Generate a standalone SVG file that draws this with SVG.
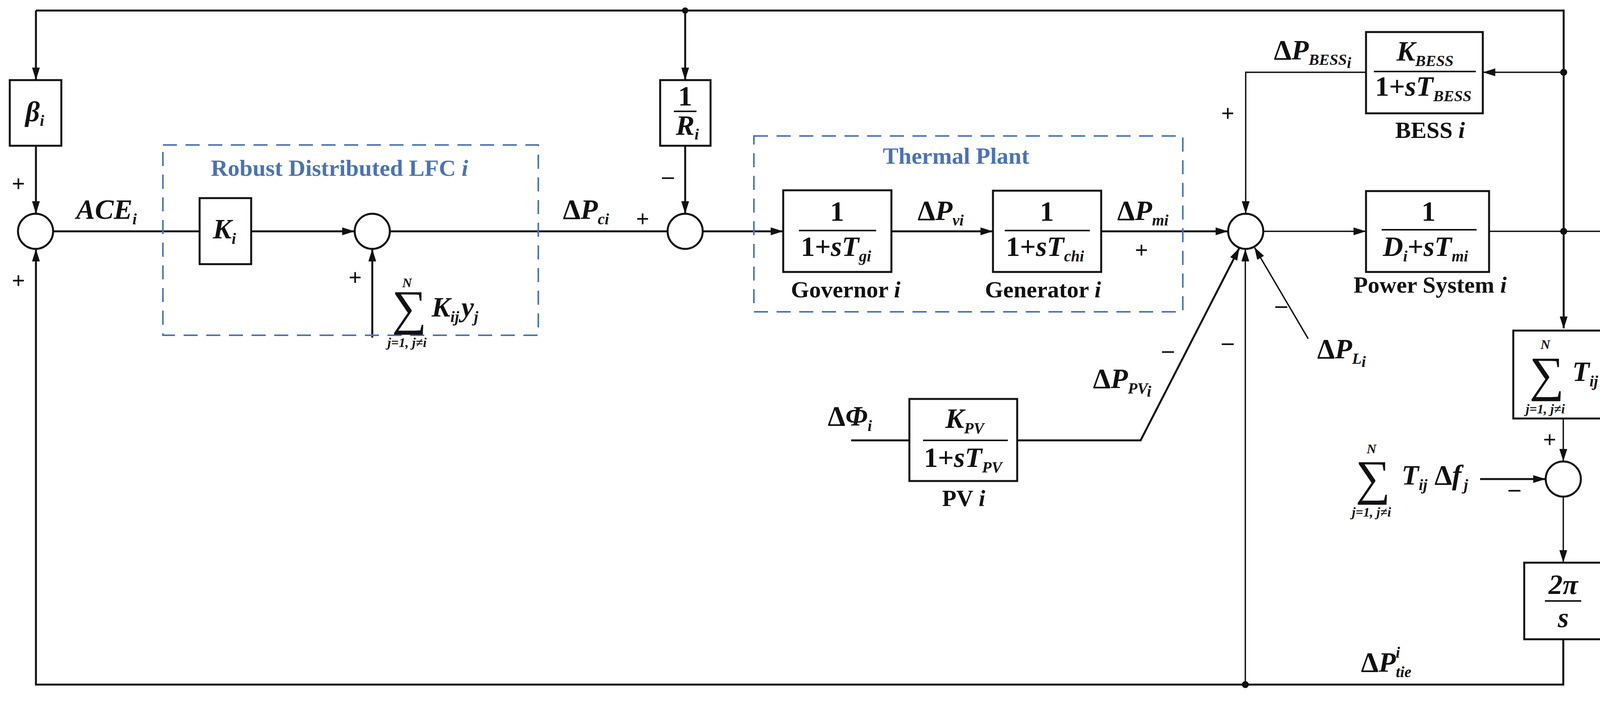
<svg xmlns="http://www.w3.org/2000/svg" width="4338" height="1794" viewBox="0 0 4338 1794">
<defs>
<marker id="ar" markerUnits="userSpaceOnUse" markerWidth="32" markerHeight="20" refX="30" refY="10" orient="auto"><path d="M0,0 L32,10 L0,20 Z" fill="#111"/></marker>
</defs>
<style>
.b{fill:#fff;stroke:#111;stroke-width:5}
.c{fill:#fff;stroke:#111;stroke-width:5}
.w{fill:none;stroke:#111;stroke-width:5}
.t{fill:none;stroke:#111;stroke-width:3.5}
.d{fill:none;stroke:#4a72b8;stroke-width:4;stroke-dasharray:36 22}
text{font-family:"Liberation Serif","Times New Roman",serif;font-weight:bold;fill:#111}
.i{font-style:italic}
.n{font-size:72px}
.l{font-size:60px}
.s{font-size:40px}
.ss{font-size:34px}
.ttl{fill:#4a72b8;font-size:60px}
.sg{font-size:125px;font-weight:normal}
.pm{font-size:60px}
</style>
<g id="connectors">
<path class="w" d="M92,27 H4003 V840" marker-end="url(#ar)"/>
<path class="w" d="M92,27 V203" marker-end="url(#ar)"/>
<path class="w" d="M92,373 V545" marker-end="url(#ar)"/>
<path class="w" d="M4002,1636 V1752 H92 V639" marker-end="url(#ar)"/>
<path class="w" d="M136,592 H511"/>
<path class="w" d="M643,592 H906" marker-end="url(#ar)"/>
<path class="w" d="M998,592 H1709"/>
<path class="w" d="M1754,27 V203" marker-end="url(#ar)"/>
<path class="w" d="M1754,373 V545" marker-end="url(#ar)"/>
<path class="w" d="M953,864 V639" marker-end="url(#ar)"/>
<path class="w" d="M1799,592 H2003" marker-end="url(#ar)"/>
<path class="w" d="M2282,592 H2540" marker-end="url(#ar)"/>
<path class="w" d="M2819,592 H3142" marker-end="url(#ar)"/>
<path class="t" d="M3234,592 H3495" marker-end="url(#ar)"/>
<path class="t" d="M3812,592 H4318" marker-end="url(#ar)"/>
<path class="t" d="M4003,185 H3798" marker-end="url(#ar)"/>
<path class="t" d="M3497,185 H3189 V545" marker-end="url(#ar)"/>
<path class="t" d="M3188,1752 V639" marker-end="url(#ar)"/>
<path class="w" d="M2179,1127 H2328"/>
<path class="w" d="M2604,1127 H2920 L3172,636" marker-end="url(#ar)"/>
<path class="t" d="M3349,867 L3212,634" marker-end="url(#ar)"/>
<path class="t" d="M4002,1071 V1179" marker-end="url(#ar)"/>
<path class="w" d="M3789,1226 H3955" marker-end="url(#ar)"/>
<path class="t" d="M4002,1271 V1438" marker-end="url(#ar)"/>
<circle cx="1754" cy="27" r="8" fill="#111"/>
<circle cx="4003" cy="185" r="9" fill="#111"/>
<circle cx="4003" cy="592" r="9" fill="#111"/>
<circle cx="3188" cy="1752" r="9" fill="#111"/>
</g>
<g id="lfc">
<rect class="d" x="417" y="371" width="961" height="487"/>
<text class="ttl" x="540" y="450">Robust Distributed LFC <tspan class="i">i</tspan></text>
</g>
<g id="thermal">
<rect class="d" x="1930" y="348" width="1098" height="450"/>
<text class="ttl" x="2260" y="419">Thermal Plant</text>
</g>
<g id="sum1"><circle class="c" cx="91" cy="592" r="45"/>
<text class="pm" x="30" y="490">+</text><text class="pm" x="30" y="738">+</text></g>
<g id="beta"><rect class="b" x="25" y="205" width="132" height="168"/>
<text class="n i" x="65" y="310">β<tspan class="s" dy="12">i</tspan></text></g>
<text class="n i" x="195" y="560">ACE<tspan class="s" dy="14">i</tspan></text>
<g id="K"><rect class="b" x="511" y="507" width="132" height="169"/>
<text class="n i" x="545" y="610">K<tspan class="s" dy="14">i</tspan></text></g>
<g id="sum2"><circle class="c" cx="953" cy="592" r="45"/>
<text class="pm" x="892" y="730">+</text>
<text class="sg" x="1003" y="830">∑</text>
<text class="ss i" x="1042" y="735" text-anchor="middle">N</text>
<text class="ss i" x="1042" y="888" text-anchor="middle">j=1, j≠i</text>
<text class="n i" x="1105" y="810">K<tspan class="s" dy="14">ij</tspan><tspan dx="6" dy="-14">y</tspan><tspan class="s" dy="14">j</tspan></text></g>
<text class="n" x="1441" y="560">Δ<tspan class="i">P</tspan><tspan class="s i" dy="14">ci</tspan></text>
<text class="pm" x="1628" y="580">+</text>
<g id="R"><rect class="b" x="1690" y="205" width="129" height="168"/>
<text class="n" x="1754" y="270" text-anchor="middle">1</text>
<line x1="1725" y1="285" x2="1783" y2="285" stroke="#111" stroke-width="4"/>
<text class="n i" x="1730" y="345">R<tspan class="s" dy="12">i</tspan></text>
<text class="pm" x="1695" y="470">–</text></g>
<g id="sum3"><circle class="c" cx="1754" cy="592" r="45"/></g>
<g id="gov"><rect class="b" x="2005" y="487" width="277" height="209"/>
<text class="n" x="2143" y="565" text-anchor="middle">1</text>
<line x1="2045" y1="590" x2="2243" y2="590" stroke="#111" stroke-width="4"/>
<text class="n" x="2050" y="655">1+<tspan class="i">sT</tspan><tspan class="s i" dy="14">gi</tspan></text>
<text class="l" x="2165" y="761" text-anchor="middle">Governor <tspan class="i">i</tspan></text></g>
<text class="n" x="2349" y="563">Δ<tspan class="i">P</tspan><tspan class="s i" dy="14">vi</tspan></text>
<g id="gen"><rect class="b" x="2542" y="488" width="277" height="208"/>
<text class="n" x="2680" y="565" text-anchor="middle">1</text>
<line x1="2572" y1="590" x2="2790" y2="590" stroke="#111" stroke-width="4"/>
<text class="n" x="2575" y="655">1+<tspan class="i">sT</tspan><tspan class="s i" dy="14">chi</tspan></text>
<text class="l" x="2670" y="761" text-anchor="middle">Generator <tspan class="i">i</tspan></text></g>
<text class="n" x="2860" y="563">Δ<tspan class="i">P</tspan><tspan class="s i" dy="14">mi</tspan></text>
<text class="pm" x="2905" y="660">+</text>
<g id="sum4"><circle class="c" cx="3189" cy="592" r="45"/>
<text class="pm" x="3126" y="310">+</text>
<text class="pm" x="3265" y="800">–</text>
<text class="pm" x="3128" y="895">–</text>
<text class="pm" x="2975" y="915">–</text></g>
<text class="n" x="3261" y="152">Δ<tspan class="i">P</tspan><tspan class="s i" dy="14">BESS</tspan><tspan class="s i" dy="8">i</tspan></text>
<g id="bess"><rect class="b" x="3497" y="82" width="299" height="208"/>
<text class="n" x="3575" y="155"><tspan class="i">K</tspan><tspan class="s i" dy="14">BESS</tspan></text>
<line x1="3517" y1="183" x2="3778" y2="183" stroke="#111" stroke-width="4"/>
<text class="n" x="3520" y="245">1+<tspan class="i">sT</tspan><tspan class="s i" dy="14">BESS</tspan></text>
<text class="l" x="3661" y="353" text-anchor="middle">BESS <tspan class="i">i</tspan></text></g>
<g id="ps"><rect class="b" x="3497" y="489" width="315" height="207"/>
<text class="n" x="3657" y="565" text-anchor="middle">1</text>
<line x1="3537" y1="588" x2="3780" y2="588" stroke="#111" stroke-width="4"/>
<text class="n i" x="3540" y="655">D<tspan class="s" dy="14">i</tspan><tspan dy="-14" font-style="normal">+</tspan>sT<tspan class="s" dy="14">mi</tspan></text>
<text class="l" x="3661" y="749" text-anchor="middle">Power System <tspan class="i">i</tspan></text></g>
<text class="n" x="4131" y="560">Δ<tspan class="i">f</tspan><tspan class="s i" dx="10" dy="10">i</tspan></text>
<g id="pv"><rect class="b" x="2328" y="1021" width="276" height="210"/>
<text class="n" x="2420" y="1095"><tspan class="i">K</tspan><tspan class="s i" dy="14">PV</tspan></text>
<line x1="2363" y1="1127" x2="2580" y2="1127" stroke="#111" stroke-width="4"/>
<text class="n" x="2365" y="1195">1+<tspan class="i">sT</tspan><tspan class="s i" dy="14">PV</tspan></text>
<text class="l" x="2467" y="1295" text-anchor="middle">PV <tspan class="i">i</tspan></text></g>
<text class="n" x="2119" y="1089">Δ<tspan class="i">Φ</tspan><tspan class="s i" dy="14">i</tspan></text>
<text class="n" x="2798" y="993">Δ<tspan class="i">P</tspan><tspan class="s i" dy="14">PV</tspan><tspan class="s i" dy="8">i</tspan></text>
<text class="n" x="3372" y="917">Δ<tspan class="i">P</tspan><tspan class="s i" dy="14">L</tspan><tspan class="s i" dy="8">i</tspan></text>
<g id="sumT"><rect class="b" x="3874" y="846" width="255" height="225"/>
<text class="sg" x="3915" y="1000">∑</text>
<text class="ss i" x="3956" y="893" text-anchor="middle">N</text>
<text class="ss i" x="3956" y="1058" text-anchor="middle">j=1, j≠i</text>
<text class="n i" x="4025" y="975">T<tspan class="s" dy="14">ij</tspan></text></g>
<g id="sum5"><circle class="c" cx="4002" cy="1226" r="45"/>
<text class="pm" x="3950" y="1145">+</text>
<text class="pm" x="3862" y="1270">–</text>
<text class="sg" x="3470" y="1265">∑</text>
<text class="ss i" x="3511" y="1160" text-anchor="middle">N</text>
<text class="ss i" x="3511" y="1322" text-anchor="middle">j=1, j≠i</text>
<text class="n" x="3588" y="1240"><tspan class="i">T</tspan><tspan class="s i" dy="14">ij</tspan><tspan dy="-14"> Δ</tspan><tspan class="i">f</tspan><tspan class="s i" dx="6" dy="14">j</tspan></text></g>
<g id="int"><rect class="b" x="3902" y="1440" width="200" height="196"/>
<text class="n i" x="4002" y="1520" text-anchor="middle">2π</text>
<line x1="3955" y1="1538" x2="4048" y2="1538" stroke="#111" stroke-width="4"/>
<text class="n i" x="4002" y="1605" text-anchor="middle">s</text></g>
<text class="n" x="3484" y="1719">Δ<tspan class="i">P</tspan><tspan class="s i" dy="14">tie</tspan><tspan class="s i" dx="-40" dy="-50">i</tspan></text>
</svg>
